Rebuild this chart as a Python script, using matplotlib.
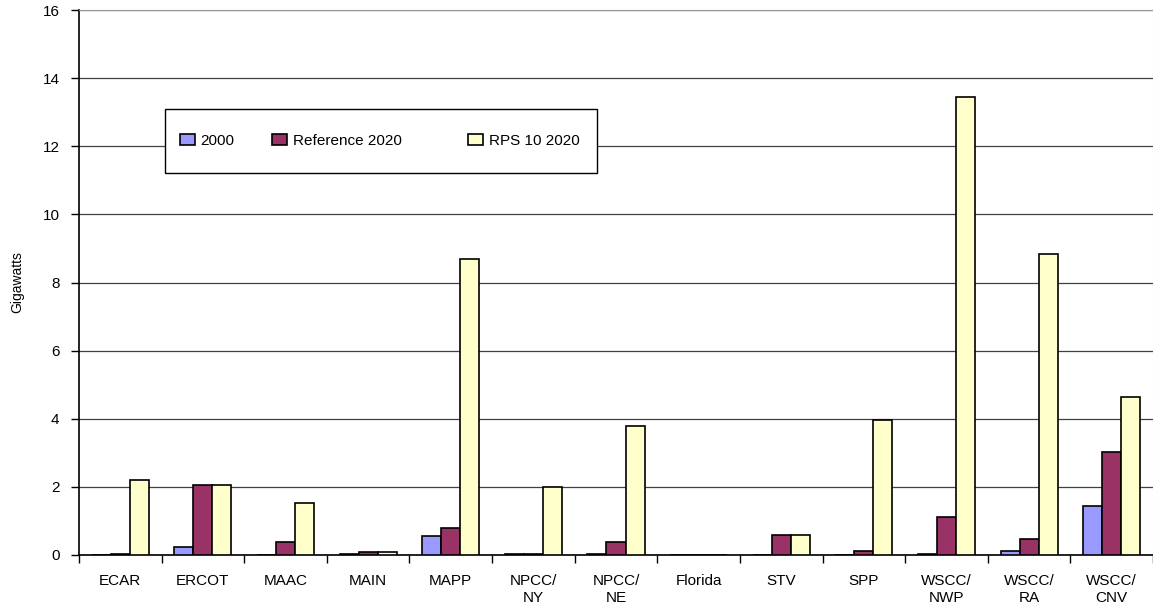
import numpy as np
import matplotlib
matplotlib.use("Agg")
from matplotlib import pyplot as plt
from matplotlib.legend import Legend
from matplotlib.patches import Rectangle

plt.rcParams['font.family'] = ['Liberation Sans', 'DejaVu Sans']

# regions and capacity (GW)
regions = ['ECAR', 'ERCOT', 'MAAC', 'MAIN', 'MAPP', 'NPCC/\nNY', 'NPCC/\nNE',
           'Florida', 'STV', 'SPP', 'WSCC/\nNWP', 'WSCC/\nRA', 'WSCC/\nCNV']
gw_2000 = [0.0, 0.23, 0.01, 0.02, 0.55, 0.02, 0.02, 0.0, 0.0, 0.0, 0.02, 0.12, 1.45]
gw_ref_2020 = [0.02, 2.05, 0.38, 0.1, 0.78, 0.02, 0.37, 0.0, 0.6, 0.12, 1.13, 0.47, 3.02]
gw_rps_2020 = [2.2, 2.05, 1.53, 0.1, 8.68, 2.0, 3.78, 0.0, 0.6, 3.97, 13.45, 8.83, 4.65]

series = [('2000', gw_2000, '#9999FF'),
          ('Reference 2020', gw_ref_2020, '#993366'),
          ('RPS 10 2020', gw_rps_2020, '#FFFFCC')]

W, H = 1153, 609
fig = plt.figure(figsize=(W / 100, H / 100), dpi=100)
ax = fig.add_axes([79 / W, 1 - 555 / H, (W - 79) / W, (555 - 10) / H])

x = np.arange(len(regions))
bw = 0.23
bars = []
for i, (name, vals, col) in enumerate(series):
    b = ax.bar(x + (i - 1) * bw, vals, bw, color=col, edgecolor='black',
               linewidth=1.2, label=name, zorder=3)
    bars.append(b)

ax.set_xlim(-0.5, len(regions) - 0.5)
ax.set_ylim(0, 16)
ax.set_yticks(range(0, 17, 2))
ax.yaxis.grid(True, color='#404040', linewidth=0.9, zorder=0)
ax.set_axisbelow(True)

# ticks at category boundaries, labels at centres
ax.set_xticks(np.arange(-0.5, len(regions), 1.0))
ax.set_xticklabels([])
ax.set_xticks(x, minor=True)
ax.set_xticklabels(regions, minor=True, fontsize=11, va='top')
ax.tick_params(axis='x', which='major', length=6, width=1, direction='out')
ax.tick_params(axis='x', which='minor', length=0, pad=14)
ax.tick_params(axis='y', length=6, width=1, labelsize=11, pad=8)

ax.spines['top'].set_color('#999999')
ax.spines['right'].set_color('#dddddd')
ax.spines['left'].set_linewidth(1.2)
ax.spines['bottom'].set_linewidth(1.2)

ax.set_ylabel('Gigawatts', fontsize=10, labelpad=13)

# legend box, in pixel positions of the original
def axx(px):
    return (px - 79) / (W - 79)

def axy(py):
    return (555 - py) / 545

ax.add_patch(Rectangle((axx(165), axy(173)), axx(597) - axx(165), axy(109) - axy(173),
                       transform=ax.transAxes, facecolor='white', edgecolor='black',
                       linewidth=1.0, zorder=5))
# one small legend per entry so the uneven spacing can be kept
for b, (name, _, _), px in zip(bars, series, [180, 272, 468]):
    leg = Legend(ax, [b], [name], loc='center left', bbox_to_anchor=(axx(px), axy(141)),
                 frameon=False, fontsize=11, handlelength=1.0, handleheight=0.75,
                 handletextpad=0.35, borderaxespad=0, borderpad=0)
    leg.set_zorder(6)
    ax.add_artist(leg)

fig.savefig('out.png', dpi=100)
